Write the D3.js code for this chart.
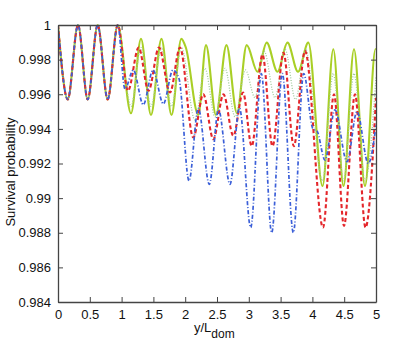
<!DOCTYPE html>
<html><head><meta charset="utf-8">
<script src="https://cdn.jsdelivr.net/npm/d3@7"></script>
<style>body{margin:0;background:#fff}svg{display:block}text{font-family:"Liberation Sans",Arial,sans-serif;fill:#111}</style>
</head><body><div id="chart"></div>
<script>
// Shared start (all series coincide for y/L < ~0.95)
const commonX = [0, 0.153, 0.315, 0.467, 0.624, 0.781, 0.939];
const commonY = [1.0, 0.9957, 1.0, 0.9957, 1.0, 0.9957, 1.0];

// Green solid
const greenX = [1.148, 1.305, 1.462, 1.627, 1.785, 1.939, 2.01, 2.206, 2.327, 2.484, 2.649, 2.814, 2.967, 3.137, 3.281, 3.451, 3.608, 3.774, 3.936, 4.159, 4.329, 4.489, 4.654, 4.827, 4.992, 5.0];
const greenY = [0.9949, 0.9992, 0.9948, 0.9992, 0.9948, 0.9992, 0.9987, 0.9948, 0.99884, 0.9948, 0.99884, 0.9949, 0.99884, 0.9973, 0.99898, 0.9973, 0.99898, 0.9973, 0.99898, 0.9907, 0.9986, 0.9907, 0.9986, 0.9907, 0.9986, 0.99858];

// Gray-green dotted
const grayX = [1.148, 1.305, 1.462, 1.627, 1.785, 1.939, 2.154, 2.311, 2.469, 2.626, 2.783, 2.948, 3.097, 3.239, 3.412, 3.569, 3.734, 3.892, 4.159, 4.329, 4.489, 4.654, 4.827, 5.0];
const grayY = [0.9953, 0.9987, 0.9953, 0.9987, 0.9953, 0.9987, 0.9945, 0.9975, 0.9947, 0.9975, 0.9947, 0.9974, 0.9958, 0.9985, 0.9958, 0.9986, 0.9957, 0.9986, 0.9910, 0.9972, 0.9910, 0.9972, 0.9910, 0.9970];

// Red dashed
const redX = [1.10, 1.269, 1.423, 1.588, 1.761, 1.918, 2.127, 2.285, 2.442, 2.602, 2.756, 2.909, 3.046, 3.215, 3.373, 3.546, 3.708, 3.884, 4.167, 4.34, 4.497, 4.67, 4.835, 5.0];
const redY = [0.9962, 0.9987, 0.9962, 0.9987, 0.9961, 0.9987, 0.9935, 0.9960, 0.9934, 0.9960, 0.9936, 0.9961, 0.9930, 0.9983, 0.9930, 0.9984, 0.9930, 0.9985, 0.9883, 0.9960, 0.9884, 0.9960, 0.9883, 0.9958];

// Blue dash-dot
const blueX = [1.053, 1.184, 1.341, 1.494, 1.656, 1.808, 1.903, 2.06, 2.206, 2.379, 2.524, 2.704, 2.854, 3.03, 3.197, 3.36, 3.527, 3.70, 3.863, 4.009, 4.07, 4.198, 4.355, 4.544, 4.701, 4.879, 5.0];
const blueY = [0.9963, 0.9974, 0.9954, 0.9974, 0.99545, 0.9974, 0.9969, 0.9910, 0.9952, 0.9908, 0.9951, 0.9908, 0.9952, 0.9883, 0.9972, 0.9880, 0.9972, 0.9880, 0.9972, 0.9940, 0.9939, 0.9922, 0.9951, 0.9921, 0.9950, 0.9920, 0.9942];

const xTicks = [0, 0.5, 1, 1.5, 2, 2.5, 3, 3.5, 4, 4.5, 5];
const yTicks = [0.984, 0.986, 0.988, 0.99, 0.992, 0.994, 0.996, 0.998, 1];

const W = 415, H = 342;
const m = {left: 58, top: 25, right: 39, bottom: 40};
const iw = W - m.left - m.right, ih = H - m.top - m.bottom;

const svg = d3.select("#chart").append("svg").attr("width", W).attr("height", H);
const g = svg.append("g").attr("transform", `translate(${m.left},${m.top})`);

const x = d3.scaleLinear().domain([0, 5]).range([0, iw]);
const y = d3.scaleLinear().domain([0.984, 1]).range([ih, 0]);

g.append("defs").append("clipPath").attr("id", "clip")
  .append("rect").attr("x", 0).attr("y", -2).attr("width", iw).attr("height", ih + 2);

const pts = (xs, ys) => commonX.map((v, i) => [v, commonY[i]]).concat(xs.map((v, i) => [v, ys[i]]));
const line = d3.line().x(d => x(d[0])).y(d => y(d[1])).curve(d3.curveMonotoneX);

const series = [
  {xs: greenX, ys: greenY, color: "#a9cf26", w: 2.1, dash: null},
  {xs: grayX, ys: grayY, color: "#9fc99a", w: 1.3, dash: "1,1.6"},
  {xs: redX, ys: redY, color: "#e4262b", w: 2.1, dash: "4,2.6"},
  {xs: blueX, ys: blueY, color: "#3b5fd8", w: 1.7, dash: "4,2,1,2"}
];
const plot = g.append("g").attr("clip-path", "url(#clip)");
series.forEach(s => {
  plot.append("path").datum(pts(s.xs, s.ys)).attr("d", line)
    .attr("fill", "none").attr("stroke", s.color).attr("stroke-width", s.w)
    .attr("stroke-dasharray", s.dash);
});

// Axes (MATLAB-style box with inward ticks)
const tl = 5;
const axB = g.append("g").attr("transform", `translate(0,${ih})`)
  .call(d3.axisBottom(x).tickValues(xTicks).tickSizeInner(-tl).tickSizeOuter(0).tickPadding(7.5).tickFormat(d3.format("")));
const axT = g.append("g")
  .call(d3.axisTop(x).tickValues(xTicks).tickSizeInner(-tl).tickSizeOuter(0).tickFormat(""));
const axL = g.append("g")
  .call(d3.axisLeft(y).tickValues(yTicks).tickSizeInner(-tl).tickSizeOuter(0).tickPadding(7).tickFormat(d3.format("")));
const axR = g.append("g").attr("transform", `translate(${iw},0)`)
  .call(d3.axisRight(y).tickValues(yTicks).tickSizeInner(-tl).tickSizeOuter(0).tickFormat(""));
[axB, axT, axL, axR].forEach(a => {
  a.select(".domain").attr("stroke", "#444").attr("stroke-width", 1.3);
  a.selectAll(".tick line").attr("stroke", "#444").attr("stroke-width", 1);
  a.selectAll("text").attr("font-size", 13).attr("fill", "#111").attr("font-family", "Liberation Sans, Arial, sans-serif");
});

// Axis titles
svg.append("text").attr("transform", `translate(15,172) rotate(-90)`)
  .attr("text-anchor", "middle").attr("font-size", 13).text("Survival probability");
const xt = svg.append("text").attr("x", 194).attr("y", 332).attr("text-anchor", "start").attr("font-size", 13);
xt.append("tspan").text("y/L");
xt.append("tspan").attr("dy", 6).attr("font-size", 12).text("dom");
</script>
</body></html>
